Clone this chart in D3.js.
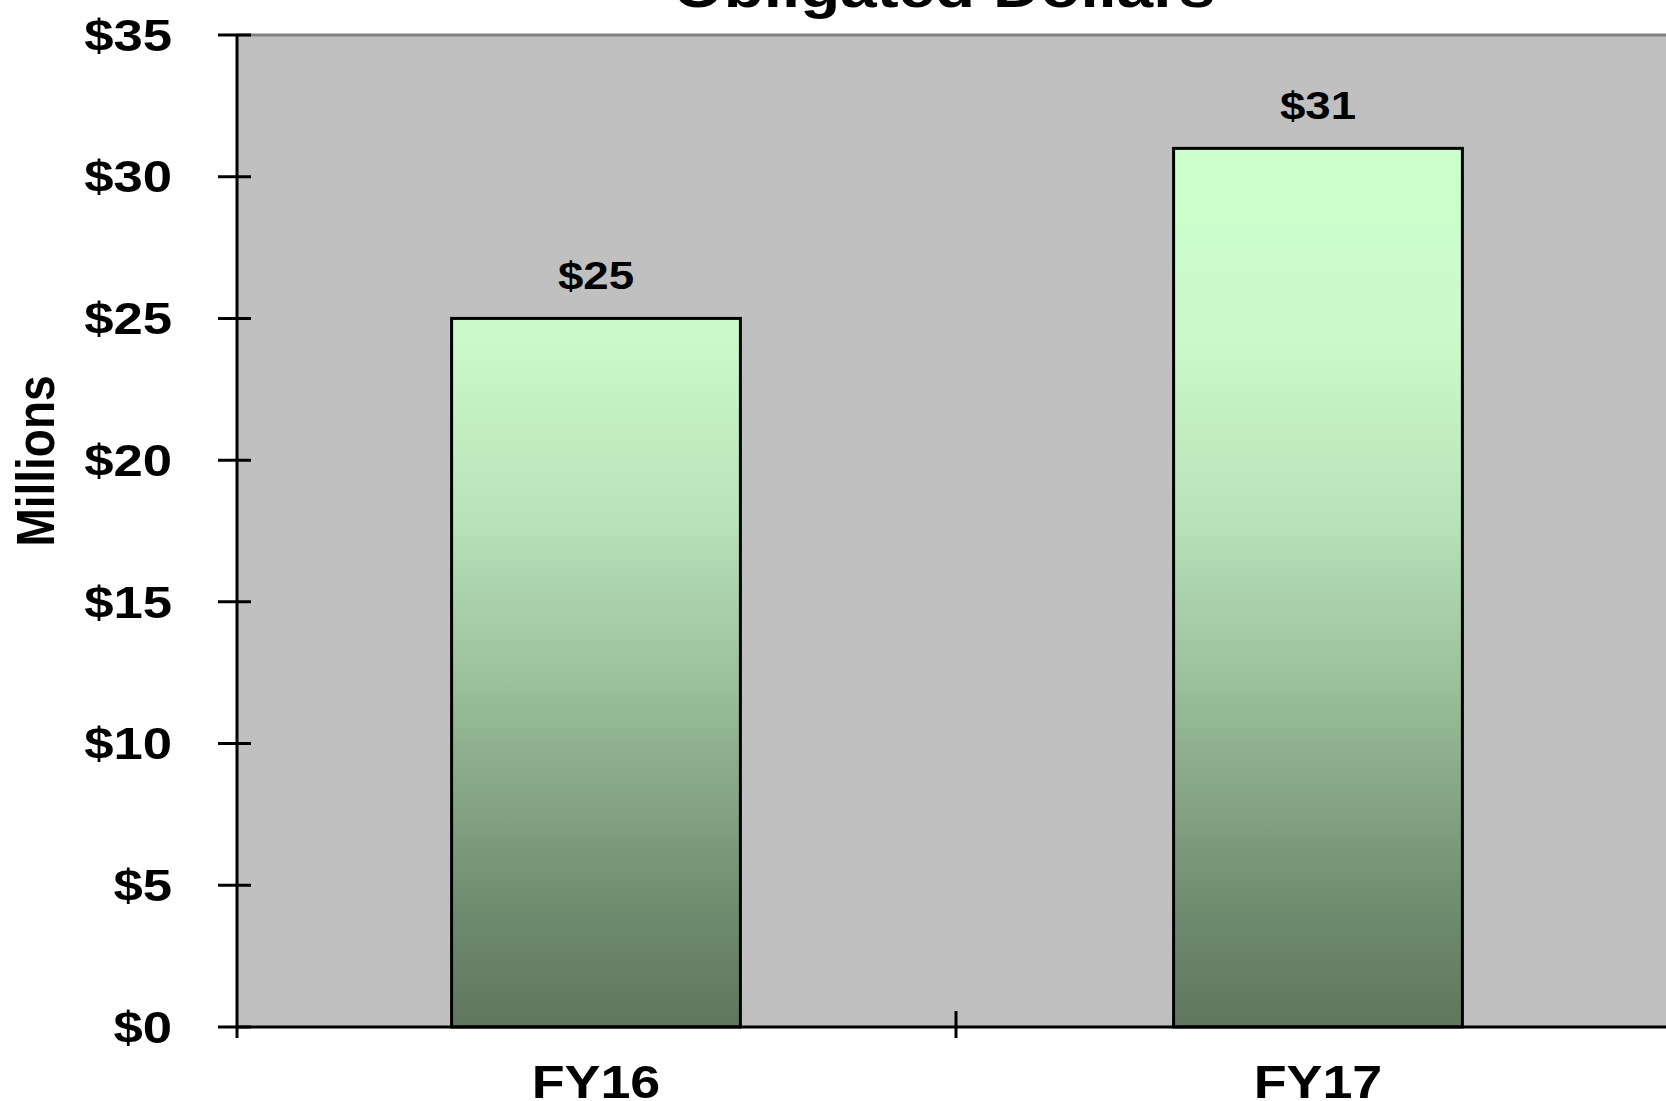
<!DOCTYPE html>
<html>
<head>
<meta charset="utf-8">
<script src="https://cdn.jsdelivr.net/npm/d3@7"></script>
<style>
  html, body { margin: 0; padding: 0; background: #fff; overflow: hidden; }
  text { font-family: "Liberation Sans", Arial, sans-serif; font-weight: bold; fill: #000; }
</style>
</head>
<body>
<div id="chart"></div>
<script>
(function () {
    'use strict';
    var categories = ["FY16", "FY17"],
        values = [25, 31],
        valueLabels = ["$25", "$31"],
        yTicks = [0, 5, 10, 15, 20, 25, 30, 35],
        title = "Obligated Dollars",
        yTitle = "Millions";

    var width = 1666, height = 1101,
        left = 237, right = 1675, top = 35, bottom = 1027,
        stretch = 1.17,
        svg, x, xTicks, y, plot, grad;

    svg = d3.select("#chart").append("svg")
        .attr("width", width)
        .attr("height", height);

    x = d3.scaleBand()
        .domain(categories)
        .range([left - 2, right + 4])
        .paddingInner(0.6)
        .paddingOuter(0.3);

    // band edges for the category ticks
    xTicks = d3.scaleBand().domain(categories).range([left, right]);

    y = d3.scaleLinear().domain([0, 35]).range([bottom, top]);

    grad = svg.append("defs").append("linearGradient")
        .attr("id", "barFill")
        .attr("gradientUnits", "userSpaceOnUse")
        .attr("x1", 0).attr("x2", 0)
        .attr("y1", y(31)).attr("y2", y(0));
    [[0, "#ccffcc"], [0.22, "#caf9ca"], [0.42, "#b9e3b9"], [0.57, "#a1c7a1"],
     [0.72, "#88a988"], [0.86, "#708d70"], [1, "#5e775e"]].forEach(function (s) {
        grad.append("stop").attr("offset", s[0]).attr("stop-color", s[1]);
    });

    plot = svg.append("g");

    plot.append("rect")
        .attr("x", left).attr("y", top)
        .attr("width", right - left).attr("height", bottom - top)
        .attr("fill", "#c0c0c0");

    plot.append("line")
        .attr("x1", left).attr("x2", right)
        .attr("y1", top).attr("y2", top)
        .attr("stroke", "#808080").attr("stroke-width", 3);

    plot.selectAll("rect.bar")
        .data(values)
        .enter()
        .append("rect")
        .attr("class", "bar")
        .attr("x", function (d, i) { return x(categories[i]); })
        .attr("y", function (d) { return y(d); })
        .attr("width", x.bandwidth())
        .attr("height", function (d) { return y(0) - y(d); })
        .attr("fill", "url(#barFill)")
        .attr("stroke", "#000")
        .attr("stroke-width", 3);

    plot.selectAll("text.val")
        .data(values)
        .enter()
        .append("text")
        .attr("class", "val")
        .attr("transform", function (d, i) {
            return "translate(" + (x(categories[i]) + x.bandwidth() / 2) + "," + (y(d) - 29) + ") scale(" + stretch + ",1)";
        })
        .attr("text-anchor", "middle")
        .style("font-size", "39px")
        .text(function (d, i) { return valueLabels[i]; });

    // axis lines
    plot.append("line")
        .attr("x1", left).attr("x2", left)
        .attr("y1", top).attr("y2", bottom)
        .attr("stroke", "#000").attr("stroke-width", 3);
    plot.append("line")
        .attr("x1", left).attr("x2", right)
        .attr("y1", bottom).attr("y2", bottom)
        .attr("stroke", "#000").attr("stroke-width", 3);

    // y ticks and labels
    var yAxis = plot.selectAll("g.ytick")
        .data(yTicks)
        .enter()
        .append("g")
        .attr("class", "ytick")
        .attr("transform", function (d) { return "translate(0," + y(d) + ")"; });
    yAxis.append("line")
        .attr("x1", 218).attr("x2", 251)
        .attr("stroke", "#000").attr("stroke-width", 3);
    yAxis.append("text")
        .attr("transform", "translate(172,0) scale(" + stretch + ",1)")
        .attr("text-anchor", "end")
        .attr("dy", "0.35em")
        .style("font-size", "45px")
        .text(function (d) { return "$" + d; });

    // x ticks at category boundaries
    var edges = categories.map(function (c) { return xTicks(c); }).concat([right]);
    plot.selectAll("line.xtick")
        .data(edges)
        .enter()
        .append("line")
        .attr("class", "xtick")
        .attr("x1", function (d) { return d; }).attr("x2", function (d) { return d; })
        .attr("y1", function (d, i) { return i === 0 ? bottom : 1011; })
        .attr("y2", 1038)
        .attr("stroke", "#000").attr("stroke-width", 3);

    plot.selectAll("text.cat")
        .data(categories)
        .enter()
        .append("text")
        .attr("class", "cat")
        .attr("transform", function (d) {
            return "translate(" + (x(d) + x.bandwidth() / 2) + ",1098) scale(" + stretch + ",1)";
        })
        .attr("text-anchor", "middle")
        .style("font-size", "46px")
        .text(function (d) { return d; });

    svg.append("text")
        .attr("transform", "translate(944,7) scale(" + stretch + ",1)")
        .attr("text-anchor", "middle")
        .style("font-size", "56px")
        .text(title);

    svg.append("text")
        .attr("transform", "translate(54,461) scale(" + stretch + ",1) rotate(-90)")
        .attr("text-anchor", "middle")
        .style("font-size", "46px")
        .text(yTitle);
}());
</script>
</body>
</html>
